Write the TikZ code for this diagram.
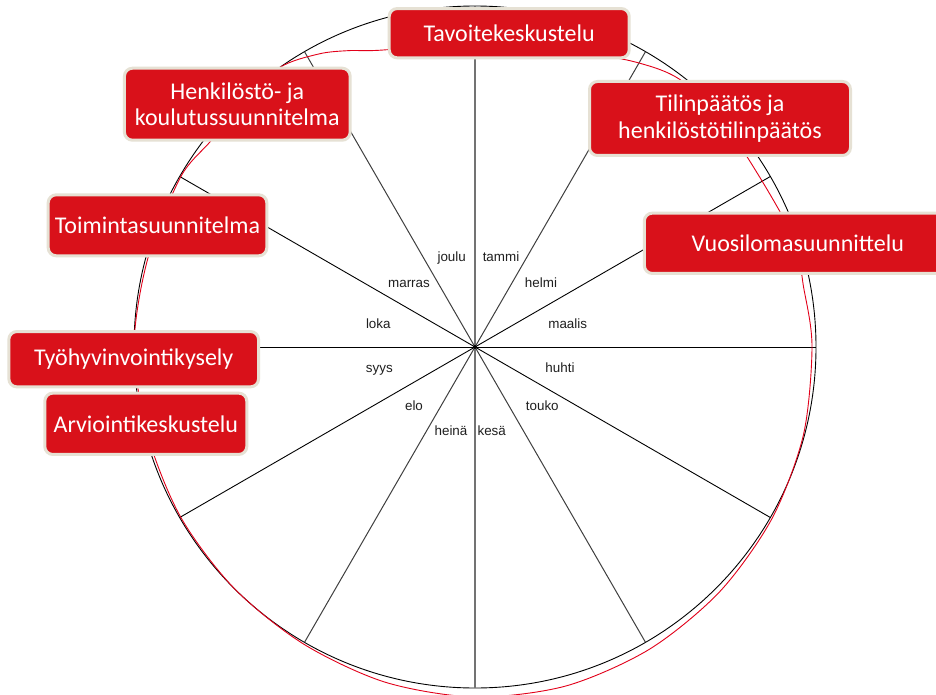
\documentclass[tikz,border=0pt]{standalone}
\usepackage{fontspec}
\setmainfont{Carlito}
\newfontfamily\monthfont{Liberation Sans}
\definecolor{boxred}{RGB}{217,17,26}
\definecolor{boxrim}{RGB}{230,225,212}
\definecolor{ringred}{RGB}{226,0,26}
\begin{document}
\begin{tikzpicture}[x=1pt,y=-1pt,
  evt/.style={rectangle, rounded corners=8pt, fill=boxred, draw=boxrim, line width=3pt,
    text=white, font=\fontsize{24}{26.7}\selectfont, align=center, inner sep=0pt},
  mon/.style={font=\monthfont\fontsize{13.4}{15}\selectfont, text=black!88, inner sep=0pt,
    text height=9.6pt, text depth=0pt},
  ring/.style={black, line width=0.9pt},
  redring/.style={ringred, line width=0.9pt},
  spkblack/.style={black, line width=0.9pt},
  spkdark/.style={black!75, line width=1pt},
  spkgray/.style={black!55, line width=1.3pt}]
\useasboundingbox (0,0) rectangle (936,695);
\fill[white] (0,0) rectangle (936,695);
\clip (0,0) rectangle (936,695);

\coordinate (c) at (475,347);
\foreach \a in {0,30,...,330} \path (c) ++(\a:341) coordinate (s\a);

\draw[ring] (c) circle (341pt);

\foreach \a in {0,30,150,180,210,330} \draw[spkblack] (c) -- (s\a);
\foreach \a in {60,120,240,300} \draw[spkdark] (c) -- (s\a);
\foreach \a in {90,270} \draw[spkgray] (c) -- (s\a);

\draw[redring] plot[smooth cycle, tension=0.5] coordinates {
  (812,347) (803.4,435) (772,518.5) (719.7,591.7) (649.5,649.2) (565.8,686)
  (475,697) (385.2,682.2) (303.5,644) (233.9,588.1) (180.6,517) (147.6,434.7)
  (134,347) (147.6,259.3) (180.6,177) (211,140.7) (236,108) (279.4,67.7)
  (319.1,53.9) (349.2,50.6) (378.6,50.3) (475,44) (582,52.9) (639,63)
  (682.5,81.4) (730.8,132.3) (790.7,232.1) (803.9,289)};

\fill[black] (c) circle (2pt);

\node[mon] (jan) at (501,256.7) {tammi};
\node[mon] (feb) at (541,282.7) {helmi};
\node[mon] (mar) at (567.7,324) {maalis};
\node[mon] (apr) at (560,367.3) {huhti};
\node[mon] (may) at (542.3,406) {touko};
\node[mon] (jun) at (491.7,431) {kesä};
\node[mon] (jul) at (451,431) {heinä};
\node[mon] (aug) at (414,406) {elo};
\node[mon] (sep) at (379.3,367.3) {syys};
\node[mon] (oct) at (378.3,324) {loka};
\node[mon] (nov) at (409,282.7) {marras};
\node[mon] (dec) at (451.7,256.7) {joulu};

\node[evt, minimum width=240pt, minimum height=49.3pt] (tav) at (509.2,33.2) {Tavoitekeskustelu};
\node[evt, minimum width=225.7pt, minimum height=72pt] (hen) at (237.3,104.2) {Henkilöstö- ja\\koulutussuunnitelma};
\node[evt, minimum width=261pt, minimum height=74pt] (til) at (720,118.5) {Tilinpäätös ja\\henkilöstötilinpäätös};
\node[evt, minimum width=307pt, minimum height=60.3pt] (vuo) at (797.8,243.3) {Vuosilomasuunnittelu};
\node[evt, minimum width=218.6pt, minimum height=61pt] (toi) at (157.5,225.3) {Toimintasuunnitelma};
\node[evt, minimum width=249.7pt, minimum height=55.3pt] (tyo) at (133.7,359.2) {Työhyvinvointikysely};
\node[evt, minimum width=202pt, minimum height=61.3pt] (arv) at (145.8,423.8) {Arviointikeskustelu};
\end{tikzpicture}
\end{document}
